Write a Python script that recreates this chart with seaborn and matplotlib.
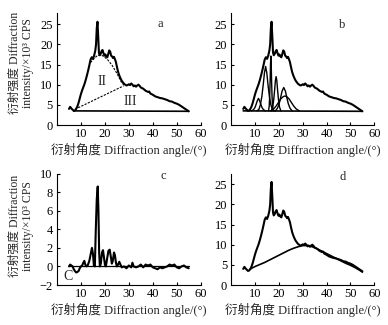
import matplotlib
matplotlib.use("Agg")
import matplotlib.pyplot as plt
import seaborn as sns
import pandas as pd

# ---------------- data ----------------
raw_angle = [5.0, 5.5, 6.0, 6.5, 7.0, 7.5, 8.0, 8.5, 9.0, 9.5, 10.0, 10.5, 11.0, 11.5,
             12.0, 12.5, 13.0, 13.5, 14.0, 14.5, 15.0, 15.5, 16.0, 16.3, 16.6, 16.9,
             17.2, 17.5, 17.8, 18.2, 18.6, 19.0, 19.4, 19.8, 20.2, 20.6, 21.0, 21.4,
             21.8, 22.2, 22.6, 23.0, 23.4, 23.8, 24.2, 24.6, 25.0, 25.5, 26.0, 26.5,
             27.0, 27.5, 28.0, 28.5, 29.0, 29.5, 30.0, 30.5, 31.0, 31.5, 32.0, 32.5,
             33.0, 33.5, 34.0, 34.5, 35.0, 36.0, 37.0, 38.0, 38.5, 39.0, 40.0, 41.0,
             42.0, 43.0, 44.0, 45.0, 46.0, 47.0, 48.0, 49.0, 50.0, 51.0, 52.0, 53.0,
             54.0, 55.0]
raw_int = [4.0, 4.5, 4.1, 3.8, 3.5, 3.6, 4.0, 4.6, 5.5, 6.6, 7.7, 8.6, 9.4, 10.2,
           11.2, 12.3, 13.5, 14.8, 16.2, 16.8, 16.4, 17.2, 18.5, 20.0, 24.0, 25.6,
           22.0, 18.0, 17.3, 17.6, 18.3, 18.6, 17.8, 17.2, 17.5, 17.0, 16.8, 17.6,
           18.5, 18.2, 17.2, 17.0, 16.6, 16.9, 16.3, 15.6, 14.5, 13.2, 12.3, 11.6,
           11.0, 10.6, 10.2, 10.0, 9.8, 9.9, 10.1, 9.9, 10.3, 10.0, 9.6, 9.8,
           9.5, 9.8, 10.0, 9.7, 9.3, 9.0, 8.5, 8.2, 8.3, 7.8, 7.5, 7.1,
           6.9, 6.7, 6.6, 6.4, 6.2, 5.9, 5.8, 5.5, 5.3, 5.0, 4.6, 4.2,
           3.8, 3.4]

# panel a: baseline, amorphous divider, crystalline envelope
base_a_angle = [7.0, 55.0]
base_a_int = [3.5, 3.4]
amorph_a_angle = [7.5, 27.8]
amorph_a_int = [3.9, 9.7]
cryst_a_angle = [14.0, 15.5, 17.0, 19.0, 21.0, 23.0, 25.0, 27.0, 28.0]
cryst_a_int = [15.5, 16.5, 17.3, 17.2, 16.3, 14.8, 12.8, 10.5, 9.9]

# panel b: baseline and fitted component peaks
base_b_angle = [5.0, 55.0]
base_b_int = [3.5, 3.4]
pk1_angle = [8.5, 9.3, 9.9, 10.4, 10.9, 11.4, 11.9, 12.4, 12.9, 13.5, 14.3]
pk1_int = [3.5, 3.8, 4.3, 5.1, 6.0, 6.6, 6.0, 5.1, 4.3, 3.8, 3.5]
pk2_angle = [10.8, 11.6, 12.2, 12.8, 13.4, 13.9, 14.4, 14.9, 15.4, 16.0, 16.6, 17.2, 18.0]
pk2_int = [3.5, 3.9, 5.0, 7.0, 10.0, 12.9, 14.5, 12.9, 10.0, 7.0, 5.0, 3.9, 3.5]
pk3_angle = [15.6, 15.9, 16.1, 16.3, 16.45, 16.6, 16.75, 16.9, 17.1, 17.3, 17.6]
pk3_int = [3.5, 4.6, 7.0, 11.0, 15.0, 17.1, 15.0, 11.0, 7.0, 4.6, 3.5]
pk4_angle = [16.8, 17.4, 17.8, 18.2, 18.5, 18.8, 19.1, 19.4, 19.8, 20.2, 20.8]
pk4_int = [3.5, 4.5, 6.3, 8.8, 11.0, 12.0, 11.0, 8.8, 6.3, 4.5, 3.5]
pk5_angle = [18.5, 19.4, 20.1, 20.7, 21.3, 22.0, 22.7, 23.3, 23.9, 24.6, 25.5]
pk5_int = [3.5, 4.2, 5.3, 6.8, 8.4, 9.3, 8.4, 6.8, 5.3, 4.2, 3.5]
pk6_angle = [16.5, 17.8, 18.8, 19.8, 20.8, 21.7, 22.5, 23.3, 24.2, 25.2, 26.2, 27.2, 28.5]
pk6_int = [3.5, 4.0, 4.7, 5.6, 6.5, 7.0, 7.2, 7.0, 6.5, 5.6, 4.7, 4.0, 3.5]

# panel c: difference pattern
diff_angle = [5.0, 5.5, 6.0, 6.5, 7.0, 7.5, 8.0, 8.5, 9.0, 9.5, 10.0, 10.5, 11.0, 11.4,
              11.8, 12.3, 12.8, 13.5, 14.2, 14.6, 15.0, 15.4, 15.8, 16.2, 16.6, 17.0,
              17.3, 17.6, 17.9, 18.3, 18.8, 19.2, 19.6, 20.0, 20.4, 20.9, 21.5, 22.0,
              22.5, 22.9, 23.3, 23.8, 24.2, 24.6, 25.0, 25.5, 26.0, 26.5, 27.0, 28.0,
              29.0, 30.0, 31.0, 31.5, 32.0, 33.0, 34.0, 35.0, 36.0, 37.0, 38.0, 39.0,
              40.0, 41.0, 42.0, 43.0, 44.0, 45.0, 46.0, 47.0, 48.0, 49.0, 50.0, 51.0,
              52.0, 53.0, 54.0, 55.0]
diff_int = [0.0, 0.2, 0.1, 0.0, -0.3, -0.5, -0.65, -0.6, -0.5, -0.2, 0.0, 0.1, 0.4, 0.6,
            0.2, 0.0, 0.1, 0.6, 1.5, 2.0, 1.4, 0.1, 0.0, 4.0, 7.2, 8.6,
            6.0, 1.5, 0.0, 0.3, 1.5, 1.75, 1.0, 0.2, 0.0, 0.8, 1.7, 1.8,
            1.0, 0.3, 0.6, 1.5, 1.2, 0.4, 0.0, 0.2, 0.5, 0.2, -0.1, 0.0,
            -0.2, 0.1, -0.1, 0.4, 0.0, -0.1, 0.0, 0.2, -0.1, 0.2, 0.1, 0.2,
            -0.1, -0.2, -0.3, -0.1, -0.2, -0.1, 0.0, 0.2, 0.1, 0.2, -0.1, -0.2,
            0.0, 0.1, -0.1, -0.2]
zero_angle = [5.0, 55.0]
zero_int = [0.0, 0.0]

# panel d: smooth amorphous hump
hump_angle = [8, 10, 12, 14, 16, 18, 20, 22, 24, 26, 28, 30, 32, 34, 36, 38, 40,
              42, 44, 46, 48, 50, 52, 54, 55]
hump_int = [4.0, 4.6, 5.1, 5.6, 6.2, 6.8, 7.4, 8.0, 8.6, 9.1, 9.5, 9.8, 9.8, 9.5,
            9.0, 8.4, 7.8, 7.2, 6.6, 6.0, 5.4, 4.9, 4.3, 3.6, 3.2]

x_ticks = [10, 20, 30, 40, 50, 60]
y_ticks_main = [0, 5, 10, 15, 20, 25]
y_ticks_diff = [-2, 0, 2, 4, 6, 8, 10]
panel_letters = ["a", "b", "c", "d"]
xlabel_text = "衍射角度 Diffraction angle/(°)"
ylabel_text = "衍射强度 Diffraction\nintensity/×10³ CPS"

# ---------------- style ----------------
sns.set_theme(style="ticks")
plt.rcParams["font.family"] = ["Liberation Serif", "Noto Sans CJK SC", "DejaVu Sans"]
plt.rcParams.update({
    "xtick.direction": "in", "ytick.direction": "in",
    "xtick.major.size": 2.5, "ytick.major.size": 2.5,
    "xtick.major.width": 0.8, "ytick.major.width": 0.8,
    "axes.linewidth": 0.8, "axes.edgecolor": "black",
    "xtick.color": "black", "ytick.color": "black",
    "font.size": 8,
})

W, H = 388, 325
fig = plt.figure(figsize=(W / 100, H / 100), dpi=100)


def add_ax(left, top, right, bottom):
    return fig.add_axes([left / W, 1 - bottom / H, (right - left) / W, (bottom - top) / H])


ax_a = add_ax(57, 13.3, 200.7, 125)
ax_b = add_ax(231.3, 13.3, 374.3, 125)
ax_c = add_ax(57, 173.5, 200.7, 285)
ax_d = add_ax(231.3, 173.5, 374.3, 285)


def line(ax, xs, ys, lw=1.4, ls="-"):
    df = pd.DataFrame({"x": xs, "y": ys})
    sns.lineplot(data=df, x="x", y="y", ax=ax, color="black", lw=lw,
                 linestyle=ls, estimator=None, sort=False)


# a
line(ax_a, raw_angle, raw_int, 1.5)
line(ax_a, base_a_angle, base_a_int, 1.2)
line(ax_a, amorph_a_angle, amorph_a_int, 0.8, (0, (2, 1.2)))
line(ax_a, cryst_a_angle, cryst_a_int, 0.8, (0, (2, 1.2)))
ax_a.text(18.7, 10.7, "II", fontsize=10, ha="center", va="center")
ax_a.text(30.5, 5.8, "III", fontsize=10, ha="center", va="center")

# b
line(ax_b, raw_angle, raw_int, 1.5)
line(ax_b, base_b_angle, base_b_int, 1.2)
for xs, ys in [(pk1_angle, pk1_int), (pk2_angle, pk2_int), (pk3_angle, pk3_int),
               (pk4_angle, pk4_int), (pk5_angle, pk5_int), (pk6_angle, pk6_int)]:
    line(ax_b, xs, ys, 1.0)

# c
line(ax_c, zero_angle, zero_int, 0.9)
line(ax_c, diff_angle, diff_int, 1.5)
ax_c.text(4.7, -1.05, "C", fontsize=10, ha="center", va="center")

# d
line(ax_d, raw_angle, raw_int, 1.5)
line(ax_d, hump_angle, hump_int, 1.2)

letter_pos = [(43.1, 25.0), (46.5, 24.8), (44.4, 9.7), (46.9, 26.9)]
for ax, letter, (lx, ly) in zip([ax_a, ax_b, ax_c, ax_d], panel_letters, letter_pos):
    ax.set_xlim(0, 60)
    ax.set_xticks(x_ticks)
    ax.text(lx, ly, letter, fontsize=9, ha="center", va="center")
    sns.despine(ax=ax)
    ax.set_xlabel(xlabel_text, fontsize=9, labelpad=2)
    ax.set_ylabel("")
    ax.tick_params(axis="x", pad=2, labelsize=9)
    ax.tick_params(axis="y", pad=3, labelsize=9)

for ax in [ax_a, ax_b, ax_d]:
    ax.set_ylim(0, 27.7)
    ax.set_yticks(y_ticks_main)
ax_c.set_ylim(-2, 10)
ax_c.set_yticks(y_ticks_diff)

fig.text(21.5 / W, 1 - 63 / H, ylabel_text, rotation=90, ha="center", va="center",
         multialignment="center", fontsize=8.5, linespacing=1.1)
fig.text(21.5 / W, 1 - 226 / H, ylabel_text, rotation=90, ha="center", va="center",
         multialignment="center", fontsize=8.5, linespacing=1.1)

fig.savefig("out.png", dpi=100)
